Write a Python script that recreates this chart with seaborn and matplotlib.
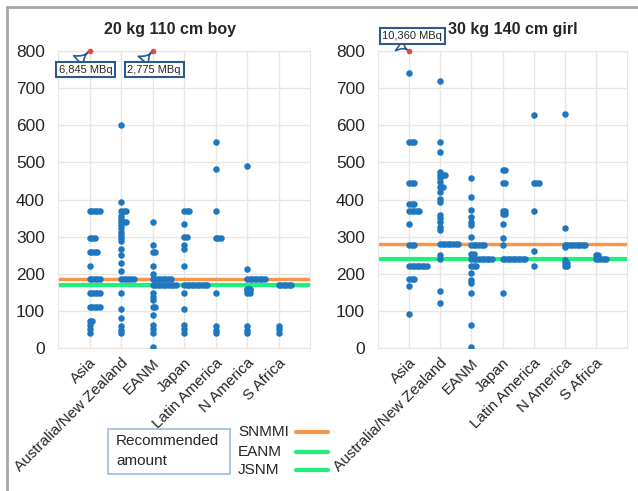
import numpy as np
import pandas as pd
import seaborn as sns
import matplotlib.pyplot as plt
from matplotlib.lines import Line2D
from matplotlib.patches import Rectangle

# categories shared by both panels
regions = ['Asia', 'Australia/New Zealand', 'EANM', 'Japan', 'Latin America', 'N America', 'S Africa']

# (dose MBq, number of respondents)
boy_asia = [(370, 5), (296, 3), (259, 4), (222, 1), (185, 5), (148, 5), (111, 5), (74, 2), (63, 1), (50, 1), (40, 1)]
boy_aus = [(600, 1), (392, 1), (370, 3), (356, 1), (347, 1), (340, 3), (330, 1), (322, 1), (313, 1), (305, 1),
           (296, 1), (287, 1), (266, 1), (251, 1), (230, 1), (208, 1), (185, 6), (149, 1), (104, 1), (80, 1),
           (59, 1), (48, 1), (40, 1)]
boy_eanm = [(340, 1), (278, 1), (259, 2), (221, 1), (199, 1), (185, 8), (170, 10), (149, 1), (138, 1), (129, 1),
            (111, 2), (89, 1), (62, 1), (50, 1), (41, 1), (4, 1)]
boy_japan = [(370, 3), (333, 1), (300, 2), (278, 1), (266, 1), (222, 1), (170, 10), (148, 1), (104, 1), (63, 1),
             (50, 1), (40, 1)]
boy_latin = [(555, 1), (481, 1), (370, 1), (296, 3), (148, 1), (59, 1), (48, 1), (40, 1)]
boy_nam = [(489, 1), (213, 1), (185, 8), (160, 2), (155, 2), (148, 2), (59, 1), (48, 1), (40, 1)]
boy_safrica = [(170, 6), (60, 1), (50, 1), (40, 1)]

girl_asia = [(740, 1), (555, 3), (444, 3), (388, 3), (370, 5), (333, 1), (277, 3), (222, 8), (185, 3), (166, 1),
             (92, 1)]
girl_aus = [(720, 1), (555, 1), (527, 1), (475, 1), (465, 3), (457, 1), (446, 1), (433, 2), (421, 1), (401, 1),
            (392, 1), (358, 1), (350, 1), (340, 1), (327, 1), (318, 1), (280, 8), (250, 1), (240, 1), (154, 1),
            (120, 1)]
girl_eanm = [(459, 1), (406, 1), (372, 1), (352, 1), (340, 1), (331, 1), (298, 1), (278, 6), (253, 2), (240, 9),
             (221, 3), (201, 1), (184, 1), (176, 1), (149, 1), (62, 1), (4, 1)]
girl_japan = [(480, 2), (444, 2), (370, 2), (360, 2), (333, 1), (297, 1), (278, 1), (240, 10), (149, 1)]
girl_latin = [(628, 1), (444, 3), (370, 1), (260, 1), (221, 1)]
girl_nam = [(630, 1), (322, 1), (278, 9), (272, 1), (237, 1), (228, 2), (221, 2)]
girl_safrica = [(250, 2), (240, 5)]

# off-scale values (shown capped at 800 with a callout)
boy_outliers = [('Asia', 6845), ('EANM', 2775)]
girl_outliers = [('Asia', 10360)]

# recommended amounts
boy_snmmi, boy_eanm_rec, boy_jsnm = 185, 170, 170
girl_snmmi, girl_eanm_rec, girl_jsnm = 280, 240, 240

boy = [boy_asia, boy_aus, boy_eanm, boy_japan, boy_latin, boy_nam, boy_safrica]
girl = [girl_asia, girl_aus, girl_eanm, girl_japan, girl_latin, girl_nam, girl_safrica]

blue = '#1f77c0'
red = '#e8453c'
orange = '#f7964a'
green = '#1ef07a'
navy = '#2b5b8c'
step = 0.082  # sideways shift for repeated doses


def to_frame(groups):
    rows = []
    for i, grp in enumerate(groups):
        for val, n in grp:
            for k in range(n):
                rows.append({'x': i + k * step, 'dose': val})
    return pd.DataFrame(rows)


sns.set_style('whitegrid')
plt.rcParams['font.family'] = ['Liberation Sans', 'DejaVu Sans']

fig = plt.figure(figsize=(6.38, 4.91), dpi=100)
ax1 = fig.add_axes([58 / 638, 1 - 348 / 491, 252 / 638, 297 / 491])
ax2 = fig.add_axes([378 / 638, 1 - 348 / 491, 249 / 638, 297 / 491])

panels = [
    (ax1, boy, boy_outliers, boy_snmmi, boy_eanm_rec, '20 kg 110 cm boy', 0.445),
    (ax2, girl, girl_outliers, girl_snmmi, girl_eanm_rec, '30 kg 140 cm girl', 0.54),
]

for ax, groups, outl, snm, ean, title, tx in panels:
    df = to_frame(groups)
    ax.axhline(snm, color=orange, lw=2.5, zorder=1)
    ax.axhline(ean, color=green, lw=3, zorder=1)
    sns.scatterplot(data=df, x='x', y='dose', ax=ax, color=blue, s=22, linewidth=0, zorder=3)
    odf = pd.DataFrame({'x': [regions.index(r) for r, v in outl], 'dose': [min(v, 800) for r, v in outl]})
    sns.scatterplot(data=odf, x='x', y='dose', ax=ax, color=red, s=16, linewidth=0, zorder=4, clip_on=False)
    ax.set_xlim(-1, 7)
    ax.set_ylim(0, 800)
    ax.set_yticks(range(0, 801, 100))
    ax.set_xticks(range(len(regions)))
    ax.set_xticklabels(regions, rotation=45, ha='right', rotation_mode='anchor', fontsize=11)
    ax.tick_params(axis='y', labelsize=12.5, pad=6)
    ax.tick_params(axis='x', pad=2)
    ax.set_xlabel('')
    ax.set_ylabel('')
    ax.grid(color='#e6e6e6', lw=1)
    for sp in ax.spines.values():
        sp.set_color('#e6e6e6')
    ax.text(tx, 1.072, title, transform=ax.transAxes, ha='center', va='center', fontsize=11.5, fontweight='bold')

box = dict(boxstyle='square,pad=0.25', fc='white', ec=navy, lw=1.5)
arrow = dict(arrowstyle='wedge,tail_width=1.3,shrink_factor=0.2', fc='white', ec=navy, lw=1.2,
             shrinkA=0, shrinkB=1)
ax1.annotate('6,845 MBq', xy=(0, 800), xytext=(-0.13, 750), fontsize=8, ha='center', va='center',
             bbox=box, arrowprops=dict(arrow, relpos=(0.3, 1.0)), annotation_clip=False)
ax1.annotate('2,775 MBq', xy=(2, 800), xytext=(2.05, 750), fontsize=8, ha='center', va='center',
             bbox=box, arrowprops=dict(arrow, relpos=(0.25, 1.0)), annotation_clip=False)
ax2.annotate('10,360 MBq', xy=(0, 800), xytext=(0.1, 840), fontsize=8, ha='center', va='center',
             bbox=box, arrowprops=dict(arrow, relpos=(0.2, 0.0)), annotation_clip=False)

# legend block drawn by hand in figure pixels
W, H = 638, 491
fig.add_artist(Rectangle((108 / W, 1 - 474 / H), 122 / W, 45 / H, transform=fig.transFigure,
                         fc='white', ec='#9bbbe0', lw=1.2))
fig.text(116 / W, 1 - 451 / H, 'Recommended\namount', fontsize=11, va='center', ha='left', linespacing=1.5)
for lab, yy, col in [('SNMMI', 432, orange), ('EANM', 452, green), ('JSNM', 470, green)]:
    fig.text(238 / W, 1 - yy / H, lab, fontsize=11, va='center', ha='left')
    fig.add_artist(Line2D([296 / W, 328 / W], [1 - yy / H, 1 - yy / H], color=col, lw=3,
                          transform=fig.transFigure))

# outer frame
fig.add_artist(Line2D([7 / W, 1], [1 - 7 / H, 1 - 7 / H], color='#a6a6a6', lw=2, transform=fig.transFigure))
fig.add_artist(Line2D([7 / W, 7 / W], [0, 1 - 7 / H], color='#a6a6a6', lw=2, transform=fig.transFigure))

plt.savefig('out.png', dpi=100)
